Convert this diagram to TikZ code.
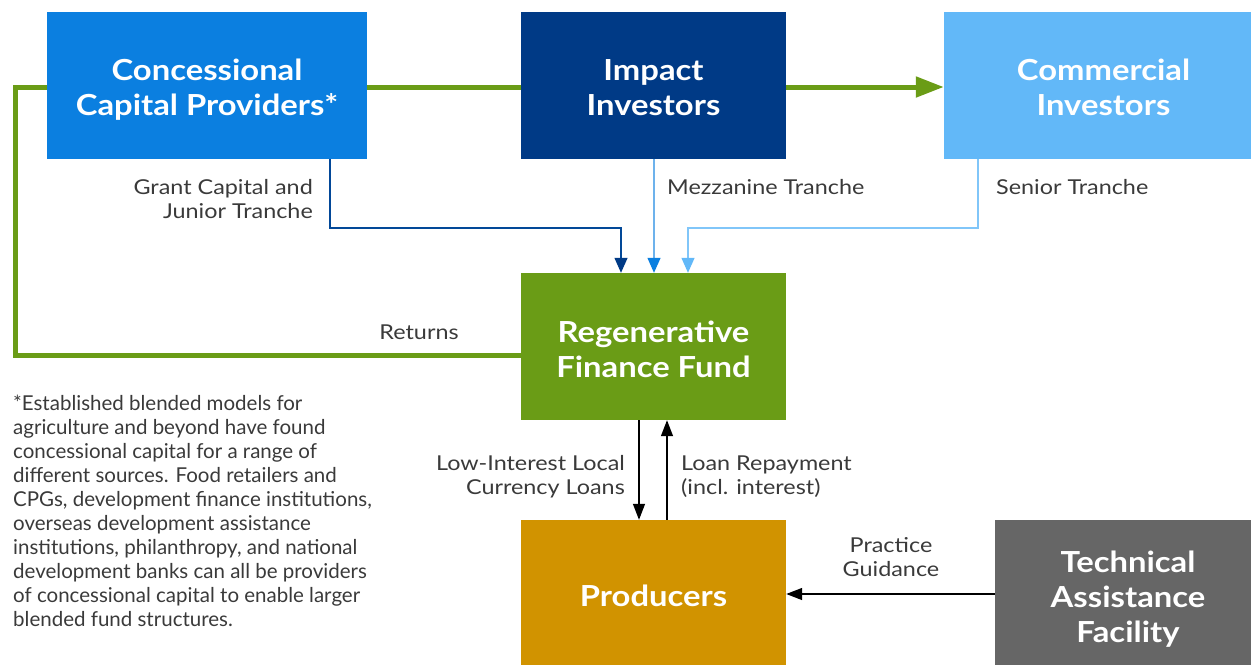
\documentclass[tikz,border=0pt]{standalone}
\usepackage{fontspec}
\setmainfont{Lato}
\newfontfamily\lblfont{Lato}[FakeStretch=1.14]
\newfontfamily\ttlfont{Lato}[FakeStretch=1.13]
\usetikzlibrary{arrows.meta,calc}
\definecolor{ccpc}{HTML}{0B7FE0}
\definecolor{impc}{HTML}{003A86}
\definecolor{comc}{HTML}{62B8F8}
\definecolor{fundc}{HTML}{6A9C16}
\definecolor{prodc}{HTML}{D19300}
\definecolor{techc}{HTML}{666666}
\definecolor{txtc}{HTML}{3A3A3A}
\pgfdeclarelayer{bg}
\pgfsetlayers{bg,main}
\tikzset{
  box/.style={inner sep=0pt},
  ttl/.style={inner sep=0pt, text=white, align=center, font=\ttlfont\fontsize{29}{35}\selectfont\bfseries},
  lbl/.style={inner sep=0pt, text=txtc, font=\lblfont\fontsize{20.5}{24}\selectfont},
  fnote/.style={inner sep=0pt, text=txtc, font=\fontsize{20.5}{24}\selectfont},
  gline/.style={draw=fundc, line width=5pt},
  cline/.style={line width=1.3pt},
  kline/.style={black, line width=1.3pt, -{Triangle[length=16pt,width=12pt]}}
}
\begin{document}
\begin{tikzpicture}[x=1pt,y=-1pt]
\useasboundingbox (0,0) rectangle (1251,665);
% boxes
\node[box, fill=ccpc, minimum width=320pt, minimum height=147pt] (ccp) at (207,85.5) {};
\node[box, fill=impc, minimum width=265pt, minimum height=147pt] (imp) at (653.5,85.5) {};
\node[box, fill=comc, minimum width=307pt, minimum height=147pt] (com) at (1097.5,85.5) {};
\node[box, fill=fundc, minimum width=265pt, minimum height=147pt] (fund) at (653.5,346.5) {};
\node[box, fill=prodc, minimum width=265pt, minimum height=145pt] (prod) at (653.5,592.5) {};
\node[box, fill=techc, minimum width=256pt, minimum height=145pt] (tech) at (1123,592.5) {};
% titles
\node[ttl] (ccpt) at ($(ccp)+(0,4)$) {Concessional\\Capital Providers*};
\node[ttl] (impt) at ($(imp)+(0,2)$) {Impact\\Investors};
\node[ttl] (comt) at ($(com)+(6,2)$) {Commercial\\Investors};
\node[ttl] (fundt) at ($(fund)+(0,3)$) {Regenerative\\Finance Fund};
\node[ttl] (prodt) at ($(prod)+(0,3.5)$) {Producers};
\node[ttl] (techt) at ($(tech)+(5,7)$) {Technical\\Assistance\\Facility};
% green return line
\coordinate (gl) at (15,355);
\coordinate (gt) at (15,87);
\begin{pgfonlayer}{bg}
\draw[gline, -{Triangle[length=28pt,width=20pt]}] (fund.west |- gl) -- (gl) -- (gt) -- (com.west |- gt);
\end{pgfonlayer}
% tranche connectors
\coordinate (c1) at (330,228);
\coordinate (c3) at (978,228);
\draw[cline, draw=impc!80!ccpc, -{Triangle[length=15pt,width=13pt,fill=impc,color=impc]}] (ccp.south -| c1) -- (c1) -- (621,228) -- (fund.north -| 621,0);
\draw[cline, draw=ccpc!60!white, -{Triangle[length=15pt,width=13pt,fill=ccpc,color=ccpc]}] (imp.south -| 654,0) -- (fund.north -| 654,0);
\draw[cline, draw=comc!80!white, -{Triangle[length=15pt,width=13pt,fill=comc,color=comc]}] (com.south -| c3) -- (c3) -- (688,228) -- (fund.north -| 688,0);
% fund <-> producers
\draw[kline] (fund.south -| 639,0) -- (prod.north -| 639,0);
\draw[kline] (prod.north -| 667,0) -- (fund.south -| 667,0);
\draw[kline] (tech.west |- 0,594) -- (prod.east |- 0,594);
% labels
\node[lbl, align=right, anchor=east] at (313,199) {Grant Capital and\\Junior Tranche};
\node[lbl, anchor=west] at (667,187) {Mezzanine Tranche};
\node[lbl, anchor=west] at (996,187) {Senior Tranche};
\node[lbl] at (419,332) {Returns};
\node[lbl, align=right, anchor=east] at (625,477) {Low-Interest Local\\Currency Loans};
\node[lbl, align=left, anchor=west] at (681,477) {Loan Repayment\\(incl. interest)};
\node[lbl, align=center] at (891,557) {Practice\\Guidance};
\node[fnote, align=left, anchor=north west] at (13,395) {*Established blended models for\\agriculture and beyond have found\\concessional capital for a range of\\different sources. Food retailers and\\CPGs, development finance institutions,\\overseas development assistance\\institutions, philanthropy, and national\\development banks can all be providers\\of concessional capital to enable larger\\blended fund structures.};
\end{tikzpicture}
\end{document}
